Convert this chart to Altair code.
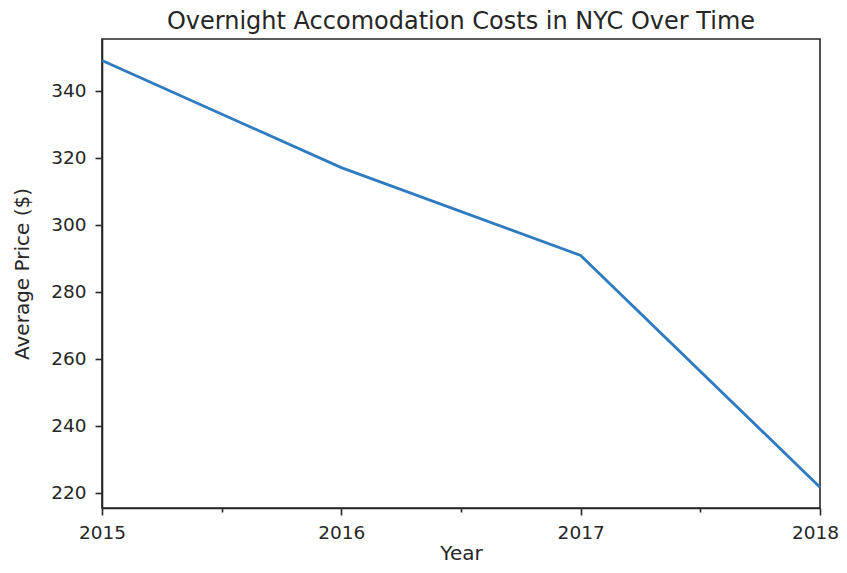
import altair as alt
import pandas as pd

years = [2015, 2016, 2017, 2018]
avg_price = [349.0, 317.0, 290.8, 221.6]

df = pd.DataFrame({"Year": years, "Price": avg_price})

FONT = "DejaVu Sans"
W, H = 718, 469

line = alt.Chart(df).mark_line(color="#2f7bbf", strokeWidth=2.8).encode(
    x=alt.X(
        "Year:Q",
        scale=alt.Scale(domain=[2015, 2018], nice=False, zero=False),
        axis=alt.Axis(
            title="Year",
            values=[2015, 2015.5, 2016, 2016.5, 2017, 2017.5, 2018],
            labelExpr="datum.value % 1 == 0 ? datum.value : ''",
            labelOverlap=False,
            labelFlush=False,
            grid=False,
            tickSize={"condition": {"test": "datum.value % 1 != 0", "value": 4}, "value": 7},
            labelOffset={"condition": {"test": "datum.value == 2018", "value": -5}, "value": 0},
            labelPadding=8,
            titleX=W / 2,
            titleY=51,
            titleBaseline="alphabetic",
            titleAlign="center",
        ),
    ),
    y=alt.Y(
        "Price:Q",
        scale=alt.Scale(domain=[215.4, 355.4], nice=False, zero=False),
        axis=alt.Axis(
            title="Average Price ($)",
            values=[220, 240, 260, 280, 300, 320, 340],
            grid=False,
            tickSize=7,
            labelPadding=9,
            titleX=-80,
            titleY=H / 2,
            titleAngle=270,
            titleAlign="center",
            titleBaseline="middle",
        ),
    ),
)

chart = line.properties(
    width=W,
    height=H,
    title=alt.TitleParams(
        "Overnight Accomodation Costs in NYC Over Time",
        font=FONT,
        fontSize=24,
        fontWeight="normal",
        color="#262626",
        offset=5,
    ),
    autosize=alt.AutoSizeParams(type="none"),
    padding={"left": 94, "top": 31, "right": 19, "bottom": 57},
).configure_view(
    stroke="#262626", strokeWidth=1.6
).configure_axis(
    labelFont=FONT,
    labelFontSize=18.5,
    labelColor="#262626",
    titleFont=FONT,
    titleFontSize=20,
    titleFontWeight="normal",
    titleColor="#262626",
    domainColor="#262626",
    domainWidth=1.6,
    tickColor="#262626",
    tickWidth=1.6,
)

chart.save("out.html", embed_options={"renderer": "svg", "actions": False})
